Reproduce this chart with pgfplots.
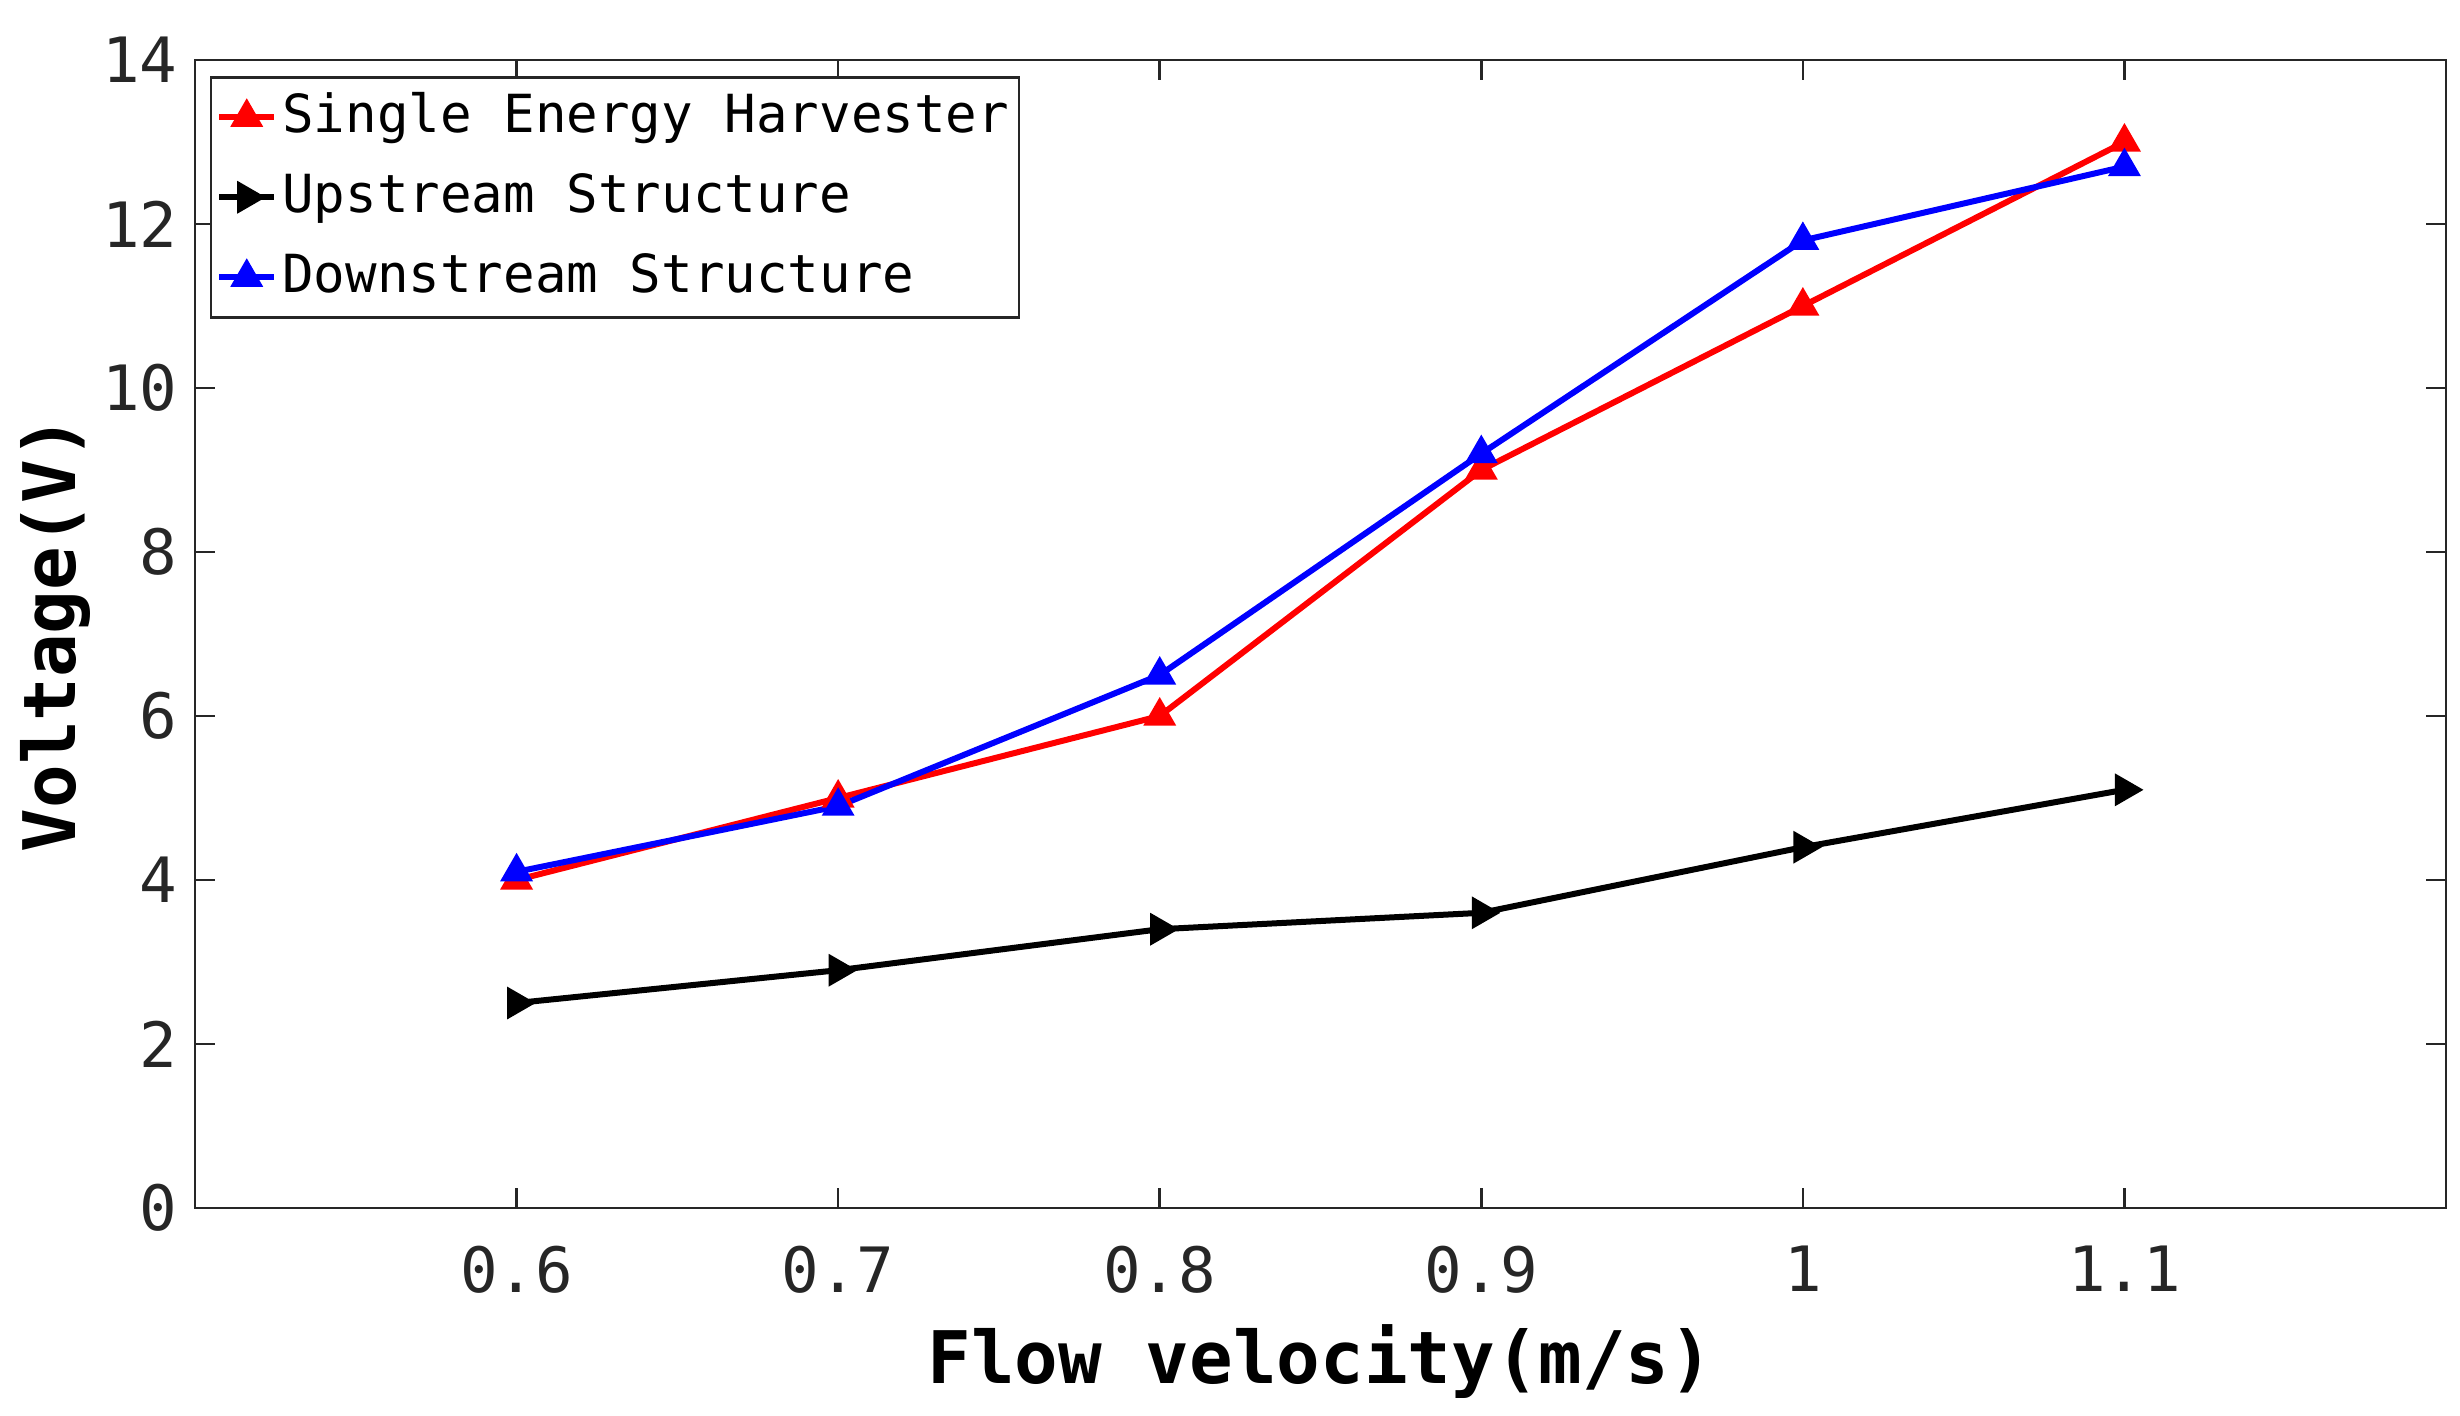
\documentclass[border=0pt]{standalone}
\usepackage{fontspec}
\setmainfont{DejaVu Sans Mono}
\usepackage{pgfplots}
\pgfplotsset{compat=1.18}

\begin{document}
\begin{tikzpicture}
\begin{axis}[
    width=450.2pt, height=229.6pt, scale only axis,
    xmin=0.5, xmax=1.2, ymin=0, ymax=14,
    xtick={0.6,0.7,0.8,0.9,1,1.1},
    ytick={0,2,4,6,8,10,12,14},
    tick align=inside, major tick length=4pt,
    axis line style={line width=0.5pt, black!85},
    every tick/.style={line width=0.5pt, black!85},
    /pgf/number format/assume math mode=true,
    ticklabel style={font=\fontsize{12.5}{15}\selectfont, text=black!85},
    xticklabel style={yshift=-4pt},
    xlabel={Flow velocity(m/s)},
    ylabel={Voltage(V)},
    xlabel style={font=\bfseries\fontsize{14.5}{17}\selectfont,
        at={(axis description cs:0.5,-0.134)}, anchor=center},
    ylabel style={font=\bfseries\fontsize{14.5}{17}\selectfont,
        at={(axis description cs:-0.0622,0.5)}, anchor=center},
    legend cell align=left,
    legend image code/.code={
        \draw[mark repeat=2, mark phase=2, #1]
        plot coordinates {(0pt,0pt) (5.5pt,0pt) (11pt,0pt)};},
    legend style={at={(axis description cs:0,1)}, anchor=north west,
        xshift=3pt, yshift=-3.2pt, draw=black!85, line width=0.5pt,
        font=\fontsize{10.5}{13}\selectfont, inner sep=1pt, row sep=2pt,
        nodes={inner sep=1pt, text height=9pt, text depth=3pt}},
]
\addplot[red, line width=1.2pt, mark=triangle*, mark size=2.6pt,
    mark options={solid}]
    coordinates {(0.6,4.0) (0.7,5.0) (0.8,6.0) (0.9,9.0) (1.0,11.0) (1.1,13.0)};
\addlegendentry{Single Energy Harvester}
\addplot[black, line width=1.2pt, mark=triangle*, mark size=2.6pt,
    mark options={solid, rotate=-90}]
    coordinates {(0.6,2.5) (0.7,2.9) (0.8,3.4) (0.9,3.6) (1.0,4.4) (1.1,5.1)};
\addlegendentry{Upstream Structure}
\addplot[blue, line width=1.2pt, mark=triangle*, mark size=2.6pt,
    mark options={solid}]
    coordinates {(0.6,4.1) (0.7,4.9) (0.8,6.5) (0.9,9.2) (1.0,11.8) (1.1,12.7)};
\addlegendentry{Downstream Structure}
\end{axis}
\path (current axis.south west) ++(-39pt,-39.4pt) coordinate (bbA);
\path (current axis.north east) ++(2.8pt,12pt) coordinate (bbB);
\path (bbA) rectangle (bbB);
\end{tikzpicture}
\end{document}
